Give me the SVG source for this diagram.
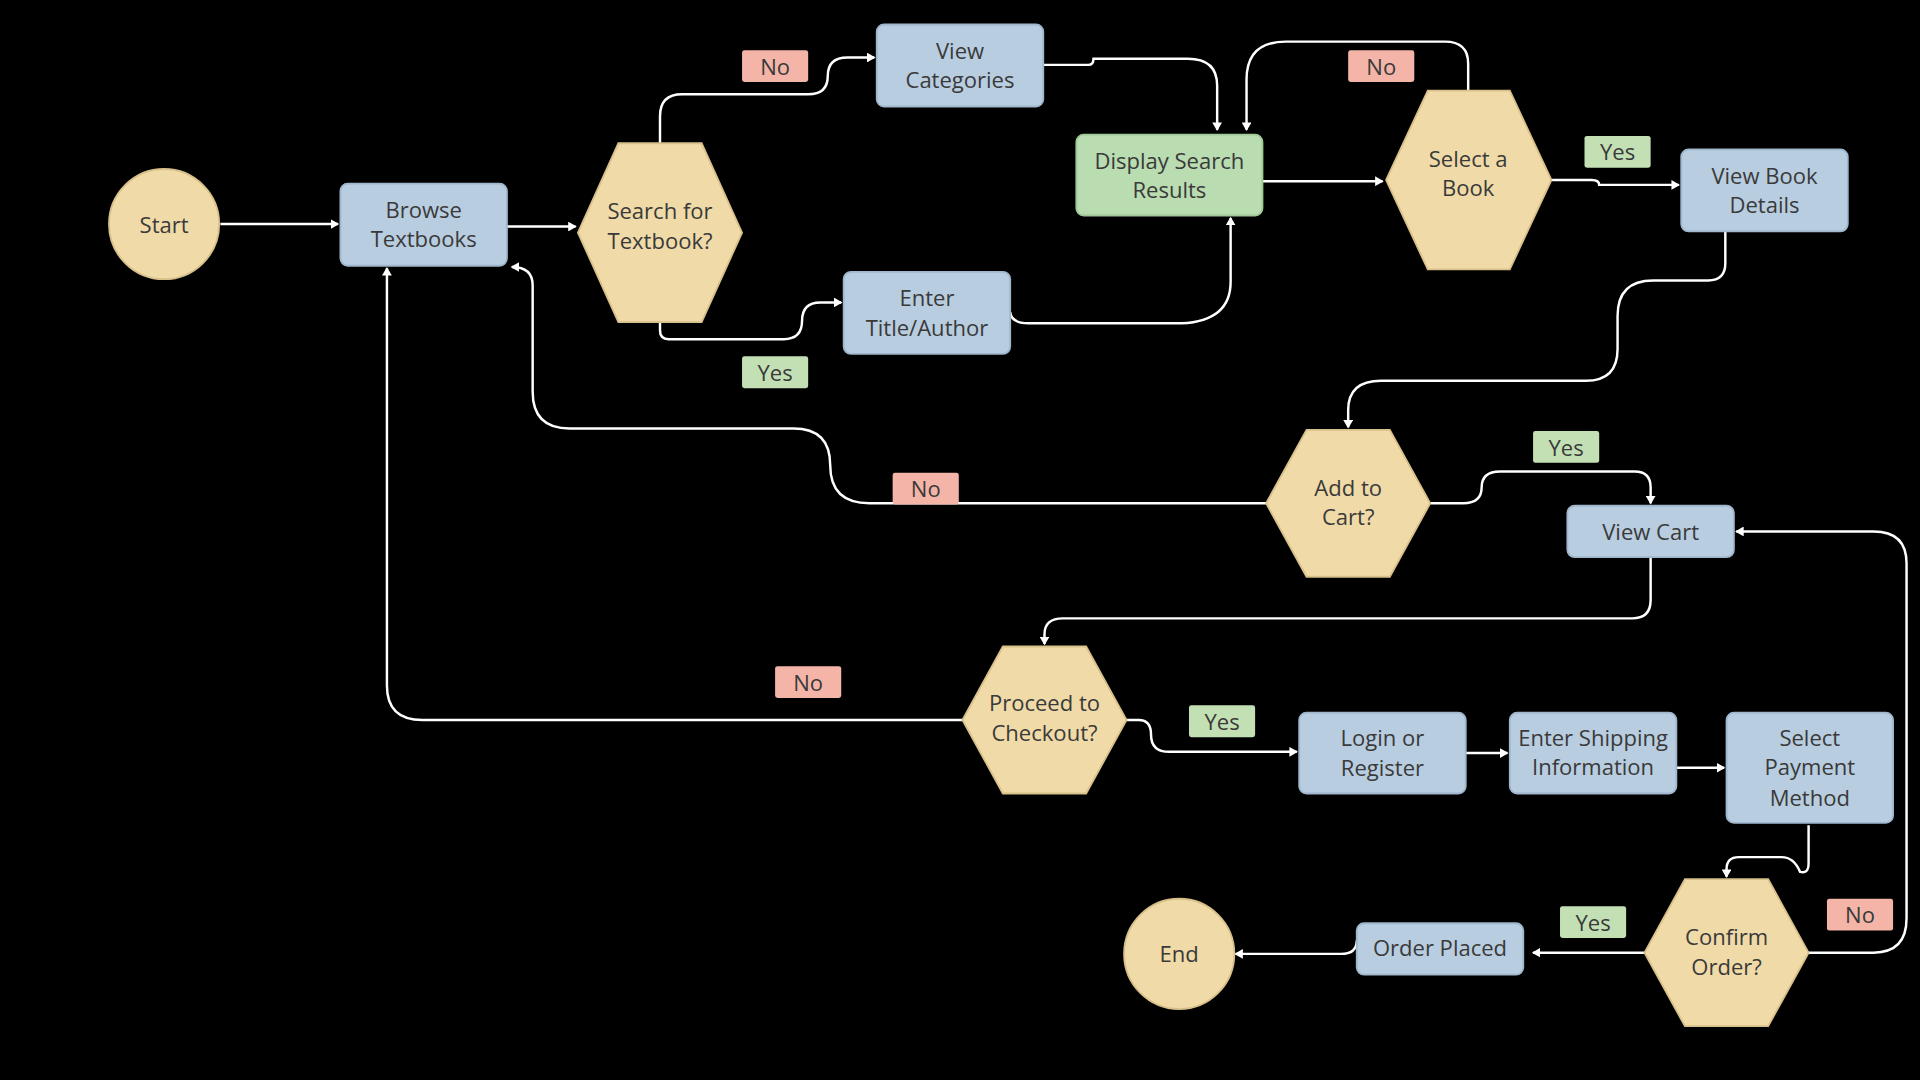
<svg xmlns="http://www.w3.org/2000/svg" width="1920" height="1080" viewBox="0 0 1920 1080">
<defs>
<marker id="ah" markerWidth="8" markerHeight="8" refX="6" refY="4" orient="auto" markerUnits="userSpaceOnUse"><path d="M0,0 L7,4 L0,8 z" fill="#fff"/></marker>
<style>
.t{font-family:"Open Sans","Liberation Sans",sans-serif;font-size:18px;fill:#3a3a3a;text-anchor:middle}
.lb{font-family:"Open Sans","Liberation Sans",sans-serif;font-size:18px;fill:#3a3a3a;text-anchor:middle}
.r{fill:#b8cde0;stroke:#9fb6cc;stroke-width:1.5}
.g{fill:#b9dcb0;stroke:#a0c896;stroke-width:1.5}
.h{fill:#f0dba8;stroke:#d8c08a;stroke-width:1.5}
.c path{fill:none;stroke:#fff;stroke-width:2;marker-end:url(#ah)}
.no{fill:#f4b5a8}.yes{fill:#c3e0b5}
</style>
</defs>
<rect width="1920" height="1080" fill="#000"/>
<g transform="scale(1.2245)">
<g class="c" id="connectors">
<path d="M180,183 H276"/>
<path d="M414,185 H470"/>
<path d="M539,117 V95 Q539,77 557,77 H660 Q676,77 676,62 Q676,47 692,47 H714"/>
<path d="M539,263 V270 Q539,277 546,277 H640 Q655,277 655,262 Q655,247 670,247 H687"/>
<path d="M852,53 H889 Q893,53 893,48 H970 Q994,48 994,70 V106"/>
<path d="M825,255 Q826,264 840,264 H965 Q1005,262 1005,230 V178"/>
<path d="M1199,74 V52 Q1199,34 1180,34 H1050 Q1018,34 1018,65 V106"/>
<path d="M1031,148 H1129"/>
<path d="M1267,147 H1300 Q1306,147 1306,151 H1371"/>
<path d="M1409,189 V215 Q1409,229 1395,229 H1350 Q1321,229 1321,258 V285 Q1321,311 1295,311 H1128 Q1101,311 1101,335 V349"/>
<path d="M1168,411 H1195 Q1210,411 1210,398 Q1210,385 1225,385 H1335 Q1348,385 1348,398 V411"/>
<path d="M1034,411 H710 Q678,411 678,380 Q678,350 648,350 H465 Q435,350 435,320 V233 Q435,218 418,218"/>
<path d="M1348,455 V490 Q1348,505 1333,505 H868 Q853,505 853,518 V526"/>
<path d="M786,588 H345 Q316,588 316,560 V219"/>
<path d="M920,588 H930 Q940,588 940,600 Q940,614 955,614 H1059"/>
<path d="M1197,615 H1231"/>
<path d="M1369,627 H1408"/>
<path d="M1477,674 V705 Q1477,714 1470,712 Q1465,700 1455,700 H1420 Q1410,700 1410,710 V716"/>
<path d="M1477,778 H1530 Q1557,778 1557,750 V460 Q1557,434 1530,434 H1418"/>
<path d="M1343,778 H1252"/>
<path d="M1108,768 Q1108,779 1095,779 H1009"/>
</g>
<g id="labels">
<rect class="no" x="606" y="41" width="54" height="26" rx="2"/><text class="lb" x="633" y="61">No</text>
<rect class="yes" x="606" y="291" width="54" height="26" rx="2"/><text class="lb" x="633" y="311">Yes</text>
<rect class="no" x="1101" y="41" width="54" height="26" rx="2"/><text class="lb" x="1128" y="61">No</text>
<rect class="yes" x="1294" y="111" width="54" height="26" rx="2"/><text class="lb" x="1321" y="131">Yes</text>
<rect class="yes" x="1252" y="352" width="54" height="26" rx="2"/><text class="lb" x="1279" y="372">Yes</text>
<rect class="no" x="729" y="386" width="54" height="26" rx="2"/><text class="lb" x="756" y="406">No</text>
<rect class="no" x="633" y="544" width="54" height="26" rx="2"/><text class="lb" x="660" y="564">No</text>
<rect class="yes" x="971" y="576" width="54" height="26" rx="2"/><text class="lb" x="998" y="596">Yes</text>
<rect class="yes" x="1274" y="740" width="54" height="26" rx="2"/><text class="lb" x="1301" y="760">Yes</text>
<rect class="no" x="1492" y="734" width="54" height="26" rx="2"/><text class="lb" x="1519" y="754">No</text>
</g>
<g id="start"><circle class="h" cx="134" cy="183" r="45"/><text class="t" x="134" y="190">Start</text></g>
<g id="browse"><rect class="r" x="278" y="150" width="136" height="67" rx="6"/><text class="t" x="346" y="178">Browse</text><text class="t" x="346" y="202">Textbooks</text></g>
<g id="search"><polygon class="h" points="472,190 505,117 573,117 606,190 573,263 505,263"/><text class="t" x="539" y="179">Search for</text><text class="t" x="539" y="203">Textbook?</text></g>
<g id="viewcat"><rect class="r" x="716" y="20" width="136" height="67" rx="6"/><text class="t" x="784" y="48">View</text><text class="t" x="784" y="72">Categories</text></g>
<g id="enter"><rect class="r" x="689" y="222" width="136" height="67" rx="6"/><text class="t" x="757" y="250">Enter</text><text class="t" x="757" y="274">Title/Author</text></g>
<g id="display"><rect class="g" x="879" y="110" width="152" height="66" rx="6"/><text class="t" x="955" y="138">Display Search</text><text class="t" x="955" y="162">Results</text></g>
<g id="select"><polygon class="h" points="1132,147 1166,74 1233,74 1267,147 1233,220 1166,220"/><text class="t" x="1199" y="136">Select a</text><text class="t" x="1199" y="160">Book</text></g>
<g id="details"><rect class="r" x="1373" y="122" width="136" height="67" rx="6"/><text class="t" x="1441" y="150">View Book</text><text class="t" x="1441" y="174">Details</text></g>
<g id="addcart"><polygon class="h" points="1034,411 1067,351 1135,351 1168,411 1135,471 1067,471"/><text class="t" x="1101" y="405">Add to</text><text class="t" x="1101" y="429">Cart?</text></g>
<g id="viewcart"><rect class="r" x="1280" y="413" width="136" height="42" rx="6"/><text class="t" x="1348" y="441">View Cart</text></g>
<g id="checkout"><polygon class="h" points="786,588 819,528 887,528 920,588 887,648 819,648"/><text class="t" x="853" y="581">Proceed to</text><text class="t" x="853" y="605">Checkout?</text></g>
<g id="login"><rect class="r" x="1061" y="582" width="136" height="66" rx="6"/><text class="t" x="1129" y="609">Login or</text><text class="t" x="1129" y="634">Register</text></g>
<g id="shipping"><rect class="r" x="1233" y="582" width="136" height="66" rx="6"/><text class="t" x="1301" y="609">Enter Shipping</text><text class="t" x="1301" y="633">Information</text></g>
<g id="payment"><rect class="r" x="1410" y="582" width="136" height="90" rx="6"/><text class="t" x="1478" y="609">Select</text><text class="t" x="1478" y="633">Payment</text><text class="t" x="1478" y="658">Method</text></g>
<g id="confirm"><polygon class="h" points="1343,778 1376,718 1444,718 1477,778 1444,838 1376,838"/><text class="t" x="1410" y="772">Confirm</text><text class="t" x="1410" y="796">Order?</text></g>
<g id="placed"><rect class="r" x="1108" y="754" width="136" height="42" rx="6"/><text class="t" x="1176" y="781">Order Placed</text></g>
<g id="end"><circle class="h" cx="963" cy="779" r="45"/><text class="t" x="963" y="786">End</text></g>
</g>
</svg>
